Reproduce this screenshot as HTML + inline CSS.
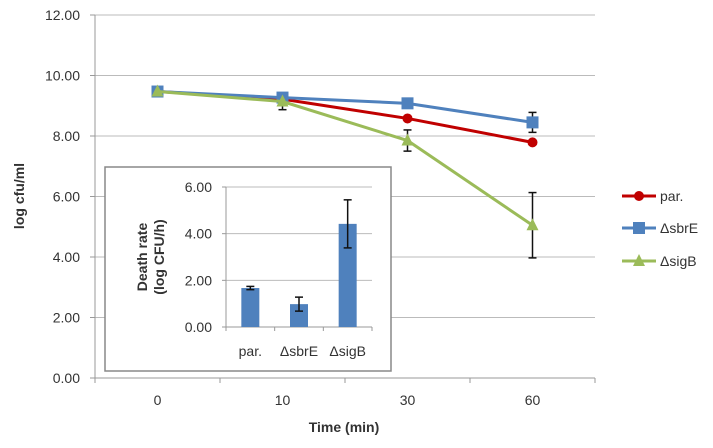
<!DOCTYPE html>
<html><head><meta charset="utf-8"><style>
body{margin:0;background:#fff;}
svg text{font-family:"Liberation Sans",sans-serif;fill:#333;}
</style></head><body>
<svg id="c" width="713" height="443" xmlns="http://www.w3.org/2000/svg"></svg>
<script>
const categories=["0","10","30","60"];
const yTicks=[0,2,4,6,8,10,12];
const parVals=[9.47,9.22,8.58,7.79];
const sbrEVals=[9.47,9.27,9.08,8.45];
const sbrEErr=[0,0,0,0.33];
const sigBVals=[9.47,9.14,7.85,5.05];
const sigBErr=[0,0.27,0.35,1.08];
const insetCats=["par.","ΔsbrE","ΔsigB"];
const insetVals=[1.67,0.98,4.42];
const insetErr=[0.07,0.3,1.03];
const insetTicks=[0,2,4,6];

const NS="http://www.w3.org/2000/svg";
const svg=document.getElementById('c');
function mk(t,a,p){const e=document.createElementNS(NS,t);for(const k in a)e.setAttribute(k,a[k]);(p||svg).appendChild(e);return e;}
const L=95,R=595,B=378,T=15;
const xs=i=>L+(R-L)/categories.length*(i+0.5);
const ys=v=>B-v*(B-T)/12;
// grid
yTicks.forEach(v=>{
  if(v>0){const g=mk('line',{x1:L,x2:R,y1:ys(v),y2:ys(v),stroke:'#bbb','stroke-width':1});
  
  }
  const t=mk('text',{x:80,y:ys(v)+5,'text-anchor':'end','font-size':14});t.textContent=v.toFixed(2);
  
  
  mk('line',{x1:L-5,x2:L,y1:ys(v),y2:ys(v),stroke:'#999'});
});
mk('line',{x1:L,x2:L,y1:T,y2:B,stroke:'#999'});
mk('line',{x1:L,x2:R,y1:B,y2:B,stroke:'#999'});
categories.forEach((c,i)=>{
  const x0=L+(R-L)/4*i;mk('line',{x1:x0,x2:x0,y1:B,y2:B+5,stroke:'#999'});
  const t=mk('text',{x:xs(i),y:405,'text-anchor':'middle','font-size':14});t.textContent=c;
  
  
});
mk('line',{x1:R,x2:R,y1:B,y2:B+5,stroke:'#999'});
let t=mk('text',{x:344,y:432,'text-anchor':'middle','font-size':14,'font-weight':'bold'});t.textContent='Time (min)';

t=mk('text',{x:0,y:0,'text-anchor':'middle','font-size':14,'font-weight':'bold',transform:'translate(24,196) rotate(-90)'});t.textContent='log cfu/ml';


function errBars(vals,err){vals.forEach((v,i)=>{if(!err[i])return;const x=xs(i);
  mk('line',{x1:x,x2:x,y1:ys(v+err[i]),y2:ys(v-err[i]),stroke:'#111','stroke-width':1.5});
  [v+err[i],v-err[i]].forEach(w=>mk('line',{x1:x-4,x2:x+4,y1:ys(w),y2:ys(w),stroke:'#111','stroke-width':1.5}));});}
function series(name,vals,col,shape){
  const g=mk('g',{});
  mk('polyline',{points:vals.map((v,i)=>xs(i)+','+ys(v)).join(' '),fill:'none',stroke:col,'stroke-width':3},g);
  vals.forEach((v,i)=>marker(g,xs(i),ys(v),col,shape));
}
function marker(g,x,y,col,shape){
  if(shape==='c')mk('circle',{cx:x,cy:y,r:5,fill:col},g);
  else if(shape==='s')mk('rect',{x:x-6,y:y-6,width:12,height:12,fill:col},g);
  else mk('polygon',{points:`${x},${y-7} ${x+6},${y+5} ${x-6},${y+5}`,fill:col},g);
}
errBars(sbrEVals,sbrEErr);errBars(sigBVals,sigBErr);
series('par','par'===''?[]:parVals,'#c00000','c');
series('sbrE',sbrEVals,'#4f81bd','s');
series('sigB',sigBVals,'#9bbb59','t');
// legend
[['par.','#c00000','c',196],['ΔsbrE','#4f81bd','s',228],['ΔsigB','#9bbb59','t',261]].forEach(l=>{
  const g=mk('g',{});
  mk('line',{x1:622,x2:656,y1:l[3],y2:l[3],stroke:l[1],'stroke-width':3},g);
  marker(g,639,l[3],l[1],l[2]);
  const tt=mk('text',{x:660,y:l[3]+5,'font-size':14},g);tt.textContent=l[0];
});
// inset
const ig=mk('g',{});
mk('rect',{x:105,y:167,width:286,height:204,fill:'#fff',stroke:'#888','stroke-width':1.5},ig);
const iL=226,iR=372,iB=327,iT=187;
const iy=v=>iB-v*(iB-iT)/6;
const ix=i=>iL+(iR-iL)/3*(i+0.5);
insetTicks.forEach(v=>{
  if(v>0)mk('line',{x1:iL,x2:iR,y1:iy(v),y2:iy(v),stroke:'#bbb'},ig);
  mk('line',{x1:iL-4,x2:iL,y1:iy(v),y2:iy(v),stroke:'#999'},ig);
  const tt=mk('text',{x:212,y:iy(v)+5,'text-anchor':'end','font-size':14},ig);tt.textContent=v.toFixed(2);
  
});
mk('line',{x1:iL,x2:iL,y1:iT,y2:iB,stroke:'#999'},ig);
mk('line',{x1:iL,x2:iR,y1:iB,y2:iB,stroke:'#999'},ig);
for(let k=0;k<=3;k++){const x=iL+(iR-iL)/3*k;mk('line',{x1:x,x2:x,y1:iB,y2:iB+4,stroke:'#999'},ig);}
insetVals.forEach((v,i)=>{
  const b=mk('rect',{x:ix(i)-9,y:iy(v),width:18,height:iB-iy(v),fill:'#4f81bd'},ig);
  
  const x=ix(i),e=insetErr[i];
  mk('line',{x1:x,x2:x,y1:iy(v+e),y2:iy(v-e),stroke:'#111','stroke-width':1.5},ig);
  [v+e,v-e].forEach(w=>mk('line',{x1:x-4,x2:x+4,y1:iy(w),y2:iy(w),stroke:'#111','stroke-width':1.5},ig));
  const tt=mk('text',{x:x,y:356,'text-anchor':'middle','font-size':14},ig);tt.textContent=insetCats[i];
  
});
t=mk('text',{x:0,y:0,'text-anchor':'middle','font-size':14,'font-weight':'bold',transform:'translate(147,257) rotate(-90)'},ig);t.textContent='Death rate';
t=mk('text',{x:0,y:0,'text-anchor':'middle','font-size':14,'font-weight':'bold',transform:'translate(164,257) rotate(-90)'},ig);t.textContent='(log CFU/h)';
</script>
</body></html>
